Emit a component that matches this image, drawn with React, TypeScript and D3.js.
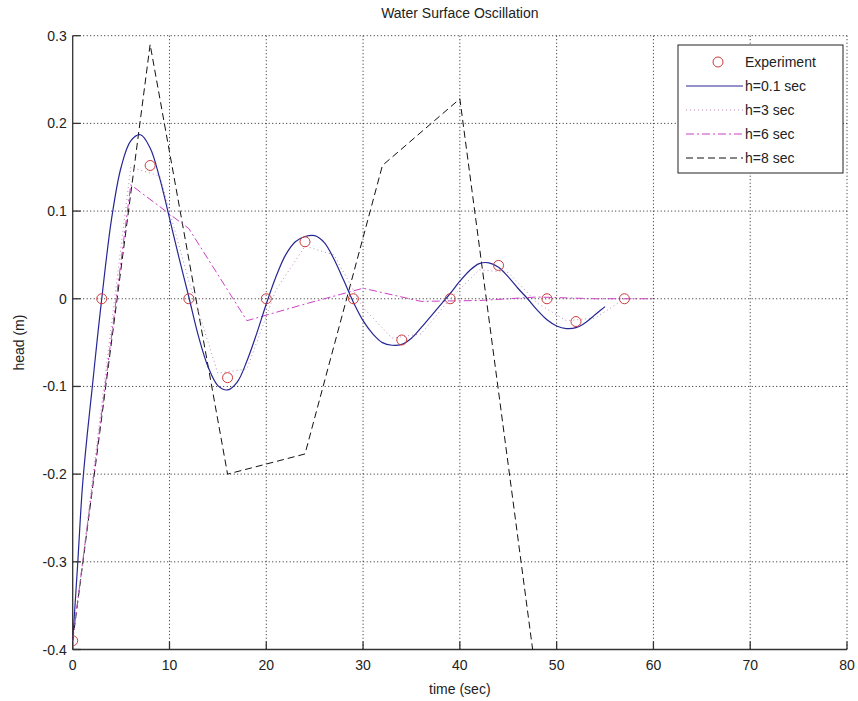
import React from 'react';
import * as d3 from 'd3';

// experiment (circles)
const expT = [0, 3, 8, 12, 16, 20, 24, 29, 34, 39, 44, 49, 52, 57];
const expH = [-0.39, 0, 0.152, 0, -0.09, 0, 0.065, 0, -0.047, 0, 0.038, 0, -0.026, 0];

// h=0.1 sec (solid)
const h01T = [0, 0.5, 1, 1.5, 2, 2.5, 3, 4, 5, 6, 7, 8, 9, 10, 11, 12, 13, 14, 15, 16, 17, 18, 19, 20, 21, 22, 23, 24, 25, 26, 27, 28, 29, 30, 31, 32, 33, 34, 35, 36, 37, 38, 39, 40, 41, 42, 43, 44, 45, 46, 47, 48, 49, 50, 51, 52, 53, 54, 55];
const h01H = [-0.39, -0.305, -0.215, -0.155, -0.103, -0.05, 0.0, 0.09, 0.15, 0.18, 0.187, 0.172, 0.137, 0.092, 0.046, 0.002, -0.043, -0.078, -0.099, -0.104, -0.095, -0.071, -0.04, -0.006, 0.025, 0.05, 0.065, 0.071, 0.072, 0.064, 0.045, 0.021, -0.004, -0.025, -0.04, -0.05, -0.053, -0.052, -0.045, -0.033, -0.02, -0.007, 0.006, 0.02, 0.032, 0.04, 0.041, 0.036, 0.025, 0.012, 0.0, -0.013, -0.024, -0.031, -0.034, -0.033, -0.027, -0.018, -0.009];

// h=3 sec (dotted)
const h3T = [0, 3, 6, 9, 12, 15, 18, 21, 24, 27, 30, 33, 36, 39, 42, 45, 48, 51, 54, 57];
const h3H = [-0.39, -0.12, 0.15, 0.14, 0.02, -0.085, -0.08, 0.01, 0.06, 0.05, -0.01, -0.045, -0.04, 0.0, 0.033, 0.03, -0.005, -0.025, -0.022, 0.0];

// h=6 sec (dash-dot)
const h6T = [0, 6, 12, 18, 24, 30, 36, 42, 48, 54, 60];
const h6H = [-0.39, 0.13, 0.08, -0.025, -0.006, 0.012, -0.003, -0.002, 0.002, 0.0, 0.0];

// h=8 sec (dashed)
const h8T = [0, 8, 16, 24, 32, 40, 48];
const h8H = [-0.39, 0.29, -0.2, -0.177, 0.152, 0.228, -0.44];

const xTicks = [0, 10, 20, 30, 40, 50, 60, 70, 80];
const yTicks = [0.3, 0.2, 0.1, 0, -0.1, -0.2, -0.3, -0.4];

const W = 858;
const H = 701;
const left = 72.7, right = 847, top = 35.7, bottom = 649.5;

const x = d3.scaleLinear().domain([0, 80]).range([left, right]);
const y = d3.scaleLinear().domain([-0.4, 0.3]).range([bottom, top]);

const zip = (t: number[], v: number[]) => t.map((d, i) => [d, v[i]] as [number, number]);

const lin = d3.line<[number, number]>().x(d => x(d[0])).y(d => y(d[1]));
const smooth = d3.line<[number, number]>().x(d => x(d[0])).y(d => y(d[1])).curve(d3.curveCatmullRom.alpha(0.5));

const BLUE = '#262694';
const RED = '#cc3a3a';
const MAG = '#cc3fc4';
const PINK = '#b88ab8';
const font = '"Liberation Sans", Arial, sans-serif';
const FS = 14;

const legendItems = [
  { label: 'Experiment', kind: 'circle' },
  { label: 'h=0.1 sec', stroke: BLUE, dash: '' },
  { label: 'h=3 sec', stroke: PINK, dash: '1,3' },
  { label: 'h=6 sec', stroke: MAG, dash: '8,3,2,3' },
  { label: 'h=8 sec', stroke: '#111', dash: '7,4' },
];

export default function App() {
  const lx = 678, ly = 45, lw = 165, lh = 128;
  return (
    <svg width={W} height={H} style={{ position: 'absolute', left: 0, top: 0, background: '#fff' }} fontFamily={font}>
      <defs>
        <clipPath id="plot">
          <rect x={left} y={top - 1} width={right - left} height={bottom - top + 1} />
        </clipPath>
      </defs>
      <rect width={W} height={H} fill="#fff" />
      {/* grid */}
      {xTicks.slice(1).map(t => (
        <line key={'gx' + t} x1={x(t)} x2={x(t)} y1={top} y2={bottom} stroke="#222" strokeWidth={1} strokeDasharray="1,2.5" />
      ))}
      {yTicks.slice(0, -1).map(t => (
        <line key={'gy' + t} x1={left} x2={right} y1={y(t)} y2={y(t)} stroke="#222" strokeWidth={1} strokeDasharray="1,2.5" />
      ))}
      {/* axes */}
      <line x1={left} x2={left} y1={top} y2={bottom} stroke="#333" strokeWidth={1.3} />
      <line x1={left} x2={right} y1={bottom} y2={bottom} stroke="#333" strokeWidth={1.3} />
      {xTicks.map(t => (
        <g key={'xt' + t}>
          <line x1={x(t)} x2={x(t)} y1={bottom} y2={bottom - 8} stroke="#333" strokeWidth={1.3} />
          <text x={x(t)} y={bottom + 20} textAnchor="middle" fontSize={FS} fill="#222">{t}</text>
        </g>
      ))}
      {yTicks.map(t => (
        <g key={'yt' + t}>
          <line x1={left} x2={left + 8} y1={y(t)} y2={y(t)} stroke="#333" strokeWidth={1.3} />
          <text x={left - 6} y={y(t) + 5} textAnchor="end" fontSize={FS} fill="#222">{t === 0 ? '0' : String(t)}</text>
        </g>
      ))}
      {/* series */}
      <g clipPath="url(#plot)" fill="none">
        <path d={lin(zip(h8T, h8H)) || ''} stroke="#111" strokeWidth={1} strokeDasharray="7,4" />
        <path d={lin(zip(h6T, h6H)) || ''} stroke={MAG} strokeWidth={1} strokeDasharray="8,3,2,3" />
        <path d={lin(zip(h3T, h3H)) || ''} stroke={PINK} strokeWidth={1} strokeDasharray="1,3" />
        <path d={smooth(zip(h01T, h01H)) || ''} stroke={BLUE} strokeWidth={1.2} />
        {expT.map((t, i) => (
          <circle key={'c' + i} cx={x(t)} cy={y(expH[i])} r={5} stroke={RED} strokeWidth={1} fill="none" />
        ))}
      </g>
      {/* labels */}
      <text x={(left + right) / 2} y={18} textAnchor="middle" fontSize={FS} fill="#222">Water Surface Oscillation</text>
      <text x={(left + right) / 2} y={694} textAnchor="middle" fontSize={FS} fill="#222">time (sec)</text>
      <text transform={`translate(24,${(top + bottom) / 2}) rotate(-90)`} textAnchor="middle" fontSize={FS} fill="#222">head (m)</text>
      {/* legend */}
      <rect x={lx} y={ly} width={lw} height={lh} fill="#fff" stroke="#222" strokeWidth={1} />
      {legendItems.map((it, i) => {
        const cy = ly + 17 + i * 24;
        return (
          <g key={'lg' + i}>
            {it.kind === 'circle' ? (
              <circle cx={718} cy={cy} r={5} stroke={RED} fill="none" />
            ) : (
              <line x1={686} x2={743} y1={cy} y2={cy} stroke={it.stroke} strokeWidth={1} strokeDasharray={it.dash} />
            )}
            <text x={745} y={cy + 5} fontSize={FS} fill="#222">{it.label}</text>
          </g>
        );
      })}
    </svg>
  );
}
